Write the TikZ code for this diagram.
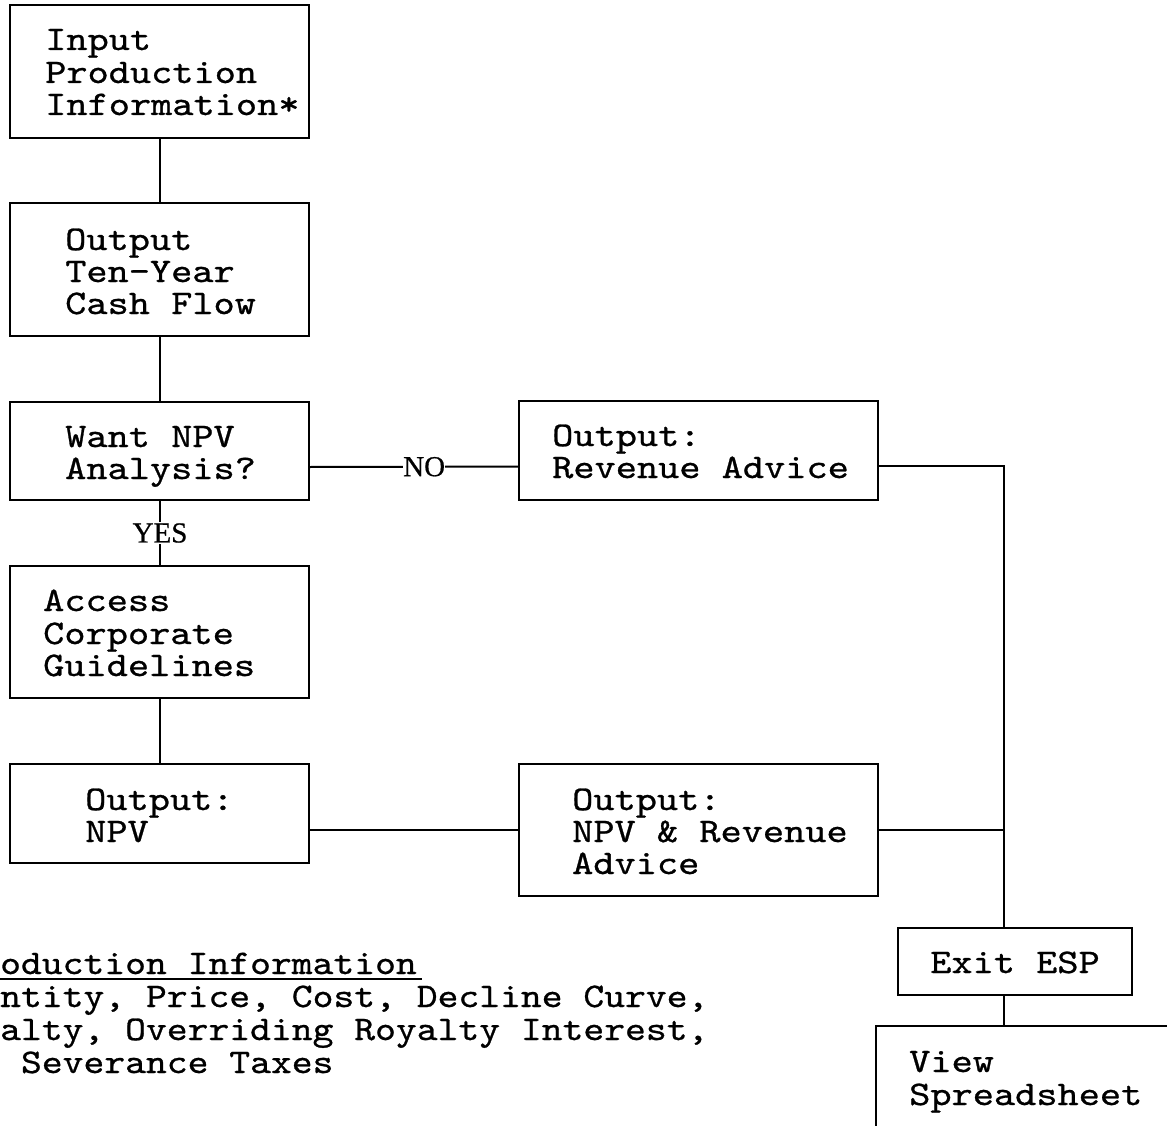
\documentclass[tikz,border=0pt]{standalone}
\usepackage{fontspec}
\newfontfamily\cour{lmmono10-regular}[Extension=.otf,FakeStretch=1.17,FakeBold=0.8]
\newfontfamily\courf{lmmono10-regular}[Extension=.otf,FakeStretch=1.15,FakeBold=0.8]
\newfontfamily\tms{Liberation Serif}[FakeBold=0.6]
\begin{document}
\begin{tikzpicture}[x=1pt,y=-1pt,
  box/.style={draw,line width=2pt,rectangle,inner sep=0pt},
  txt/.style={anchor=base west,inner sep=0pt,font=\cour\fontsize{34.5}{34.5}\selectfont},
  ftxt/.style={anchor=base west,inner sep=0pt,font=\courf\fontsize{34.5}{34.5}\selectfont},
  lbl/.style={fill=white,inner sep=1pt,font=\tms\fontsize{29}{29}\selectfont},
  conn/.style={line width=2pt}]
\useasboundingbox[fill=white] (0,0) rectangle (1167,1126);
% boxes
\node[box,minimum width=299pt,minimum height=133pt] (b1) at (159,71.5) {};
\node[box,minimum width=299pt,minimum height=133pt] (b2) at (159,269.5) {};
\node[box,minimum width=299pt,minimum height=98pt] (b3) at (159,451) {};
\node[box,minimum width=299pt,minimum height=132pt] (b4) at (159,632) {};
\node[box,minimum width=299pt,minimum height=99pt] (b5) at (159,813.5) {};
\node[box,minimum width=359pt,minimum height=99pt] (b6) at (698.5,450.5) {};
\node[box,minimum width=359pt,minimum height=132pt] (b7) at (698.5,830) {};
\node[box,minimum width=234pt,minimum height=67pt] (ex) at (1015,961.5) {};
\node[box,minimum width=324pt,minimum height=174pt] (vw) at (1038,1113) {};
% texts
\node[txt] at (45,50) {Input};
\node[txt] at (45,83) {Production};
\node[txt] at (45,115) {Information*};
\node[txt] at (65,250) {Output};
\node[txt] at (65,282) {Ten-Year};
\node[txt] at (65,314) {Cash Flow};
\node[txt] at (65,447) {Want NPV};
\node[txt] at (65,479) {Analysis?};
\node[txt] at (43,611) {Access};
\node[txt] at (43,644) {Corporate};
\node[txt] at (43,676) {Guidelines};
\node[txt] at (85,810) {Output:};
\node[txt] at (85,842) {NPV};
\node[txt] at (552,446) {Output:};
\node[txt] at (552,478) {Revenue Advice};
\node[txt] at (572,810) {Output:};
\node[txt] at (572,842) {NPV \& Revenue};
\node[txt] at (572,874) {Advice};
\node[txt,anchor=base] at (1015,973) {Exit ESP};
\node[txt] at (909,1072) {View};
\node[txt] at (909,1105) {Spreadsheet};
% footnote
\node[ftxt] (fn) at (0,974) {oduction Information};
\draw[line width=1.8pt] (fn.base west) ++(0,5) -- ++(422,0);
\node[ftxt] at (0,1007) {ntity, Price, Cost, Decline Curve,};
\node[ftxt] at (0,1040) {alty, Overriding Royalty Interest,};
\node[ftxt] at (0,1073) {\ Severance Taxes};
% connectors
\draw[conn] ([xshift=1pt]b1.south) -- ([xshift=1pt]b2.north);
\draw[conn] ([xshift=1pt]b2.south) -- ([xshift=1pt]b3.north);
\draw[conn] ([xshift=1pt]b3.south) -- node[lbl]{YES} ([xshift=1pt]b4.north);
\draw[conn] ([xshift=1pt]b4.south) -- ([xshift=1pt]b5.north);
\draw[conn] ([yshift=-16pt]b3.east) -- node[lbl,inner xsep=0pt,pos=0.55]{NO} ([yshift=-16pt]b6.west);
\draw[conn] (b5.east |- b7.west) -- (b7.west);
\coordinate (j) at (1004,828);
\draw[conn] ([yshift=-15pt]b6.east) -| (ex.north -| j);
\draw[conn] (b7.east) -- (b7.east -| j);
\draw[conn] (ex.south -| j) -- (vw.north -| j);
\end{tikzpicture}
\end{document}
